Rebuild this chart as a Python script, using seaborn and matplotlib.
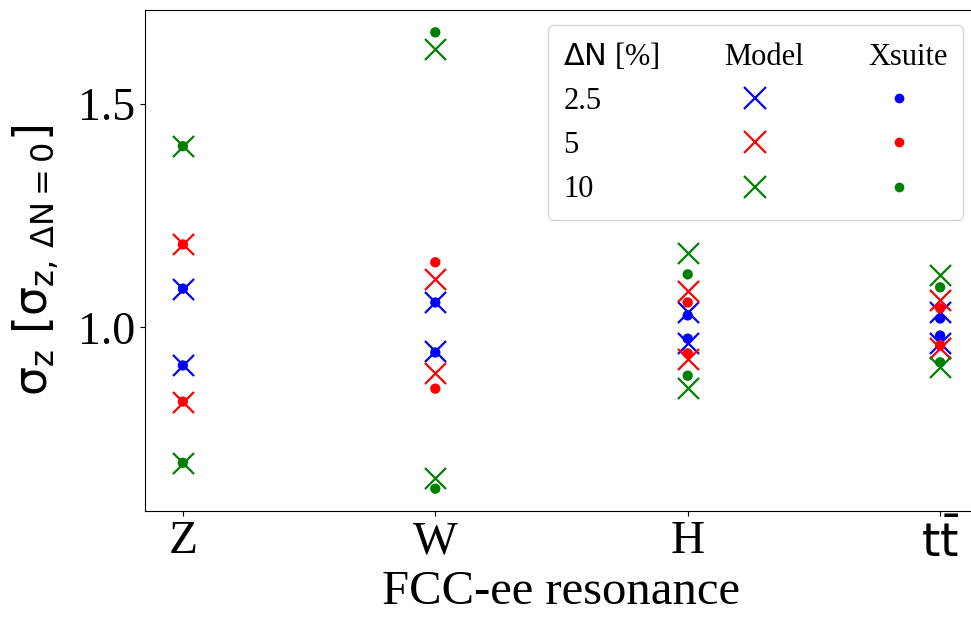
import numpy as np
import pandas as pd
import matplotlib
matplotlib.use("Agg")
import matplotlib.pyplot as plt
from matplotlib.lines import Line2D
import seaborn as sns

plt.rcParams['font.family'] = ['Liberation Serif', 'DejaVu Sans']
plt.rcParams['mathtext.fontset'] = 'dejavusans'
plt.rcParams['mathtext.default'] = 'regular'

resonances = ['Z', 'W', 'H', r'$\mathrm{t\bar{t}}$']
dn_levels = ['2.5', '5', '10']
colors = ['blue', 'red', 'green']

# Model (crosses): upper / lower branch per resonance
model_2p5_up = [1.087, 1.056, 1.034, 1.034]
model_2p5_dn = [0.915, 0.948, 0.966, 0.966]
model_5_up = [1.186, 1.108, 1.081, 1.061]
model_5_dn = [0.834, 0.899, 0.930, 0.953]
model_10_up = [1.406, 1.623, 1.166, 1.117]
model_10_dn = [0.697, 0.664, 0.865, 0.912]

# Xsuite (dots)
xsuite_2p5_up = [1.087, 1.056, 1.027, 1.020]
xsuite_2p5_dn = [0.915, 0.944, 0.975, 0.982]
xsuite_5_up = [1.186, 1.146, 1.056, 1.043]
xsuite_5_dn = [0.834, 0.863, 0.942, 0.960]
xsuite_10_up = [1.406, 1.661, 1.119, 1.090]
xsuite_10_dn = [0.697, 0.639, 0.892, 0.922]

model = [(model_2p5_up, model_2p5_dn), (model_5_up, model_5_dn), (model_10_up, model_10_dn)]
xsuite = [(xsuite_2p5_up, xsuite_2p5_dn), (xsuite_5_up, xsuite_5_dn), (xsuite_10_up, xsuite_10_dn)]

fig = plt.figure(figsize=(9.71, 6.17), dpi=100)
ax = fig.add_axes([145 / 971, 106 / 617, 833 / 971, 501 / 617])

for lvl, col, (m_up, m_dn), (x_up, x_dn) in zip(dn_levels, colors, model, xsuite):
    df_m = pd.DataFrame({'res': resonances * 2, 'sigma': m_up + m_dn})
    df_x = pd.DataFrame({'res': resonances * 2, 'sigma': x_up + x_dn})
    sns.scatterplot(data=df_m, x='res', y='sigma', marker='x', s=230, color=col,
                    linewidth=1.6, ax=ax, zorder=3)
    sns.scatterplot(data=df_x, x='res', y='sigma', marker='o', s=55, color=col,
                    edgecolor='none', ax=ax, zorder=4)

ax.set_xlim(-0.15, 3.15)
ax.set_ylim(0.589, 1.711)
ax.set_yticks([1.0, 1.5])
ax.tick_params(axis='x', labelsize=34)
ax.tick_params(axis='y', labelsize=33)
ax.set_xlabel('FCC-ee resonance', fontsize=35, labelpad=2)
ax.set_ylabel(r'$\mathrm{\sigma_z\ [\sigma_{z,\,\Delta N=0}]}$', fontsize=33, labelpad=12)

blank = Line2D([], [], linestyle='none')
handles = [blank] * 4 + [blank] + \
    [Line2D([], [], linestyle='none', marker='x', markersize=16, mew=1.6, color=c) for c in colors] + \
    [blank] + \
    [Line2D([], [], linestyle='none', marker='o', markersize=7, mec='none', color=c) for c in colors]
labels = [r'$\mathrm{\Delta N}$ [%]'] + dn_levels + ['Model', '', '', '', 'Xsuite', '', '', '']
ax.legend(handles, labels, ncol=3, loc='upper right', fontsize=22,
          handlelength=2.0, handletextpad=-2.0, columnspacing=2.1,
          labelspacing=0.5, borderpad=0.5)

fig.savefig('out.png', dpi=100)
